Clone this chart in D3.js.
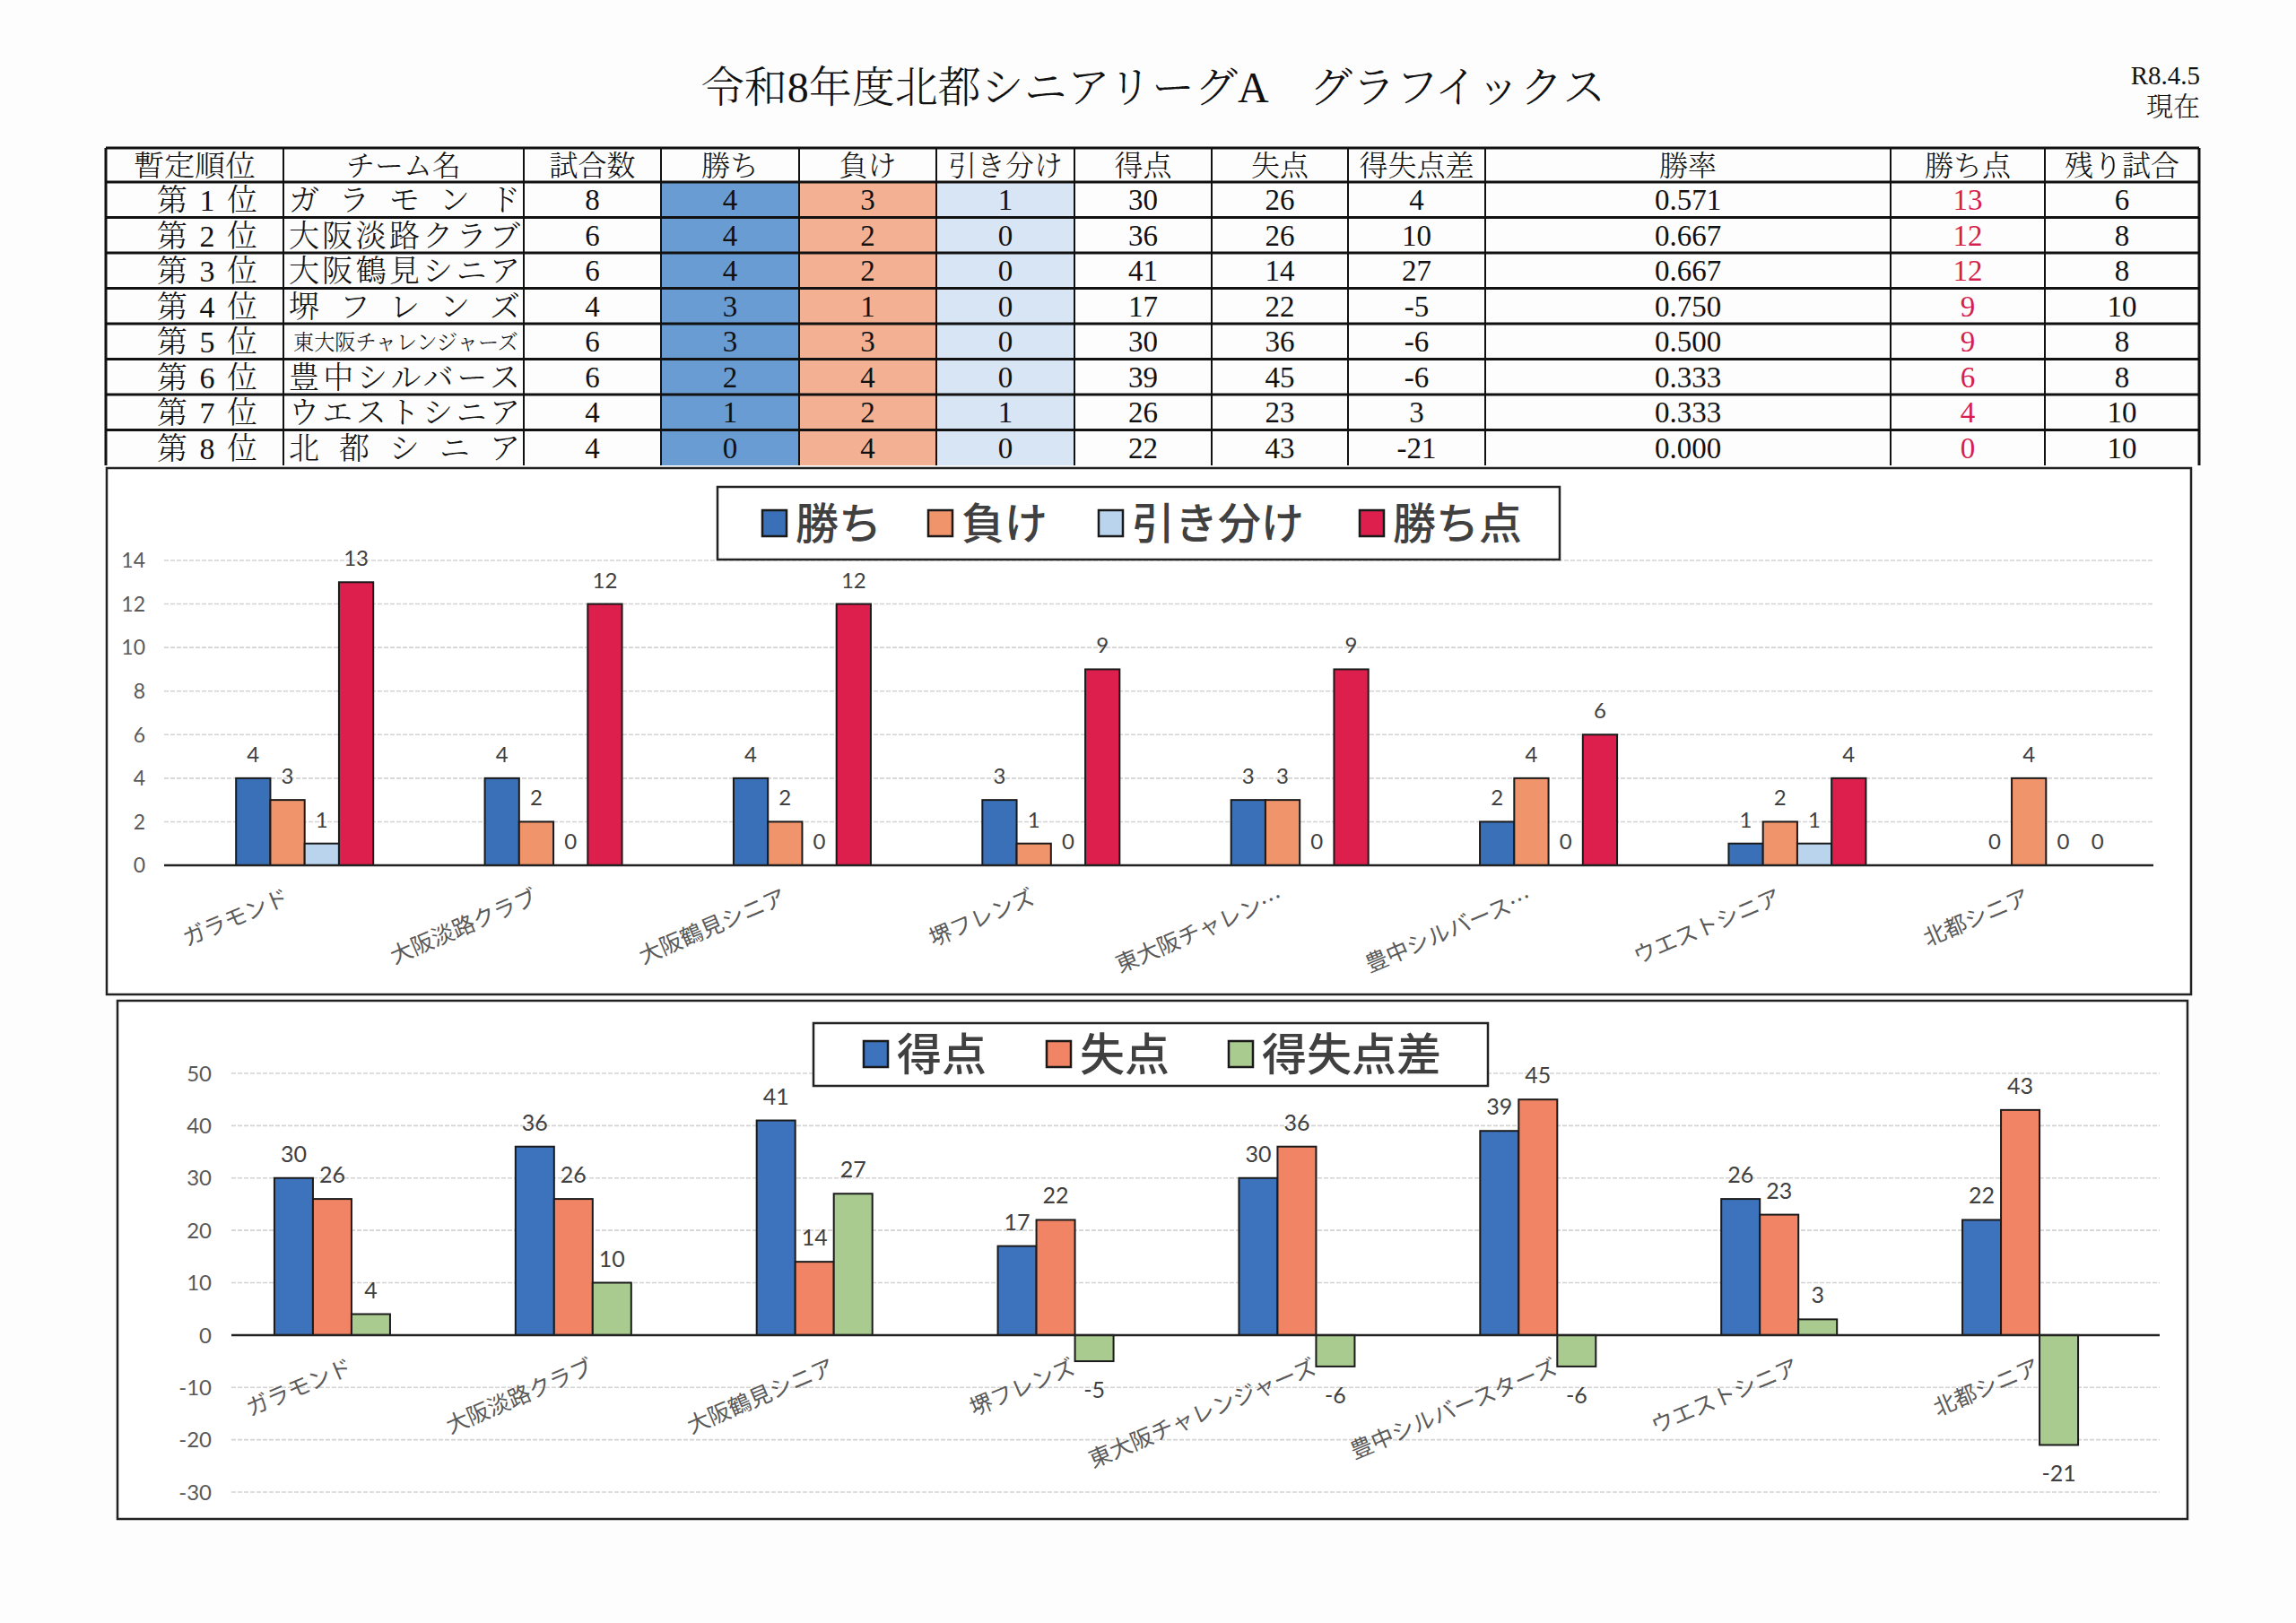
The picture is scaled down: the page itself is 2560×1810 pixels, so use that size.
<!DOCTYPE html>
<html><head><meta charset="utf-8">
<script src="https://cdn.jsdelivr.net/npm/d3@7/dist/d3.min.js"></script>
<style>body{margin:0;background:#fff}</style>
</head><body>
<svg id="c" width="2560" height="1810" xmlns="http://www.w3.org/2000/svg"></svg>
<script>
// ---------------- data ----------------
const titleText = "令和8年度北都シニアリーグA　グラフイックス";
const dateText = "R8.4.5";
const dateSub = "現在";
const headers = ["暫定順位","チーム名","試合数","勝ち","負け","引き分け","得点","失点","得失点差","勝率","勝ち点","残り試合"];
const ranks = ["第1位","第2位","第3位","第4位","第5位","第6位","第7位","第8位"];
const teamsTable = ["ガラモンド","大阪淡路クラブ","大阪鶴見シニア","堺フレンズ","東大阪チャレンジャーズ","豊中シルバース","ウエストシニア","北都シニア"];
const teamsChart1 = ["ガラモンド","大阪淡路クラブ","大阪鶴見シニア","堺フレンズ","東大阪チャレン…","豊中シルバース…","ウエストシニア","北都シニア"];
const teamsChart2 = ["ガラモンド","大阪淡路クラブ","大阪鶴見シニア","堺フレンズ","東大阪チャレンジャーズ","豊中シルバースターズ","ウエストシニア","北都シニア"];
const games = [8,6,6,4,6,6,4,4];
const wins = [4,4,4,3,3,2,1,0];
const losses = [3,2,2,1,3,4,2,4];
const draws = [1,0,0,0,0,0,1,0];
const runsFor = [30,36,41,17,30,39,26,22];
const runsAgainst = [26,26,14,22,36,45,23,43];
const runDiff = [4,10,27,-5,-6,-6,3,-21];
const winRate = ["0.571","0.667","0.667","0.750","0.500","0.333","0.333","0.000"];
const winPoints = [13,12,12,9,9,6,4,0];
const remaining = [6,8,8,10,8,8,10,10];
const chart1Series = ["勝ち","負け","引き分け","勝ち点"];
const chart2Series = ["得点","失点","得失点差"];
const chart1Ticks = [0,2,4,6,8,10,12,14];
const chart2Ticks = [-30,-20,-10,0,10,20,30,40,50];

// ---------------- styles ----------------
const svg = d3.select("#c");
const JP = "'Noto Sans CJK JP', sans-serif";
const SERIF = "'Liberation Serif', 'Noto Serif CJK JP', 'Noto Sans CJK JP', serif";
const NUM = "Lato, 'Noto Sans CJK JP', sans-serif";

svg.append("rect").attr("width",2560).attr("height",1810).attr("fill","#fdfdfd");

// ---------------- title ----------------
svg.append("text").attr("x",1286).attr("y",114).attr("text-anchor","middle")
  .attr("font-family",SERIF).attr("font-weight",300).attr("font-size",48).attr("fill","#111")
  .text(titleText);
svg.append("text").attr("x",2453).attr("y",94).attr("text-anchor","end")
  .attr("font-family",SERIF).attr("font-size",29).attr("fill","#111").text(dateText);
svg.append("text").attr("x",2453).attr("y",129).attr("text-anchor","end")
  .attr("font-family",SERIF).attr("font-weight",300).attr("font-size",30).attr("fill","#111").text(dateSub);

// ---------------- table ----------------
const colX = [118,316,584,737,891,1044,1198,1351,1503,1656,2108,2280,2452];
const tableTop = 165, headH = 38, rowH = 39.5;
const rowYs = d3.range(9).map(i => i===0 ? tableTop : tableTop + headH + (i-1)*rowH);
const tbl = svg.append("g");
const fills = {3:"#699cd2",4:"#f4b092",5:"#d7e5f4"};
ranks.forEach((r,i)=>{
  const y0 = tableTop + headH + i*rowH;
  Object.keys(fills).forEach(c=>{
    tbl.append("rect").attr("x",colX[c]).attr("y",y0).attr("width",colX[+c+1]-colX[c]).attr("height",rowH).attr("fill",fills[c]);
  });
});
// header
headers.forEach((h,c)=>{
  const t = tbl.append("text").attr("x",(colX[c]+colX[c+1])/2).attr("y",tableTop+headH/2).attr("dy","0.36em")
    .attr("text-anchor","middle").attr("font-family",SERIF).attr("font-weight",300).attr("font-size",32).attr("fill","#111").text(h);
  if (c===0) t.attr("textLength",136).attr("lengthAdjust","spacingAndGlyphs");
});
// rows
ranks.forEach((r,i)=>{
  const cy = tableTop + headH + i*rowH + rowH/2;
  tbl.append("text").attr("x",175).attr("y",cy).attr("dy","0.37em").attr("textLength",112).attr("lengthAdjust","spacing")
    .attr("font-family",SERIF).attr("font-weight",300).attr("font-size",34).attr("fill","#111").text(r);
  const small = teamsTable[i].length > 8;
  tbl.append("text").attr("x", small?327:322).attr("y",cy).attr("dy","0.37em")
    .attr("textLength", small?251:258).attr("lengthAdjust", small?"spacingAndGlyphs":"spacing")
    .attr("font-family",SERIF).attr("font-weight",300).attr("font-size", small?24:34).attr("fill","#111").text(teamsTable[i]);
  const vals = [games[i],wins[i],losses[i],draws[i],runsFor[i],runsAgainst[i],runDiff[i],winRate[i],winPoints[i],remaining[i]];
  vals.forEach((v,k)=>{
    const c = k+2;
    tbl.append("text").attr("x",(colX[c]+colX[c+1])/2).attr("y",cy).attr("dy","0.35em").attr("text-anchor","middle")
      .attr("font-family",SERIF).attr("font-size",33).attr("fill", c===10 ? "#d61f4e" : "#111").text(v);
  });
});
// grid lines
rowYs.forEach(y=>{
  tbl.append("line").attr("x1",colX[0]).attr("x2",colX[12]).attr("y1",y).attr("y2",y).attr("stroke","#111").attr("stroke-width",3);
});
colX.forEach((x,k)=>{
  tbl.append("line").attr("x1",x).attr("x2",x).attr("y1",tableTop).attr("y2",tableTop+headH+8*rowH)
    .attr("stroke","#111").attr("stroke-width", (k===0||k===12)?3:2);
});

// ---------------- charts ----------------
function barChart(cfg){
  const g = svg.append("g");
  g.append("rect").attr("x",cfg.frame[0]).attr("y",cfg.frame[1]).attr("width",cfg.frame[2]-cfg.frame[0]).attr("height",cfg.frame[3]-cfg.frame[1])
    .attr("fill","#fff").attr("stroke","#222").attr("stroke-width",2.5);
  const y = d3.scaleLinear().domain(cfg.yDomain).range(cfg.yRange);
  const xBars = d3.scaleBand().domain(d3.range(cfg.names.length)).range(cfg.barRange);
  const xLab = d3.scaleBand().domain(d3.range(cfg.names.length)).range(cfg.gridRange);
  const xs = d3.scaleBand().domain(cfg.series.map(s=>s.name)).range([-cfg.groupW/2, cfg.groupW/2]);
  // grid
  cfg.ticks.forEach(t=>{
    g.append("line").attr("x1",cfg.gridRange[0]).attr("x2",cfg.gridRange[1]).attr("y1",y(t)).attr("y2",y(t))
      .attr("stroke", t===0 ? "none" : "#d4d4d4").attr("stroke-width",1.6).attr("stroke-dasharray","5,2");
    g.append("text").attr("x",cfg.tickX).attr("y",y(t)).attr("dy","0.36em").attr("text-anchor","end")
      .attr("font-family",NUM).attr("font-size",cfg.tickSize).attr("fill","#595959").text(t);
  });
  // bars
  cfg.series.forEach(s=>{
    s.values.forEach((v,i)=>{
      const cx = xBars(i) + xBars.bandwidth()/2;
      const x0 = cx + xs(s.name);
      if (v !== 0) {
        g.append("rect").attr("x",x0).attr("width",xs.bandwidth())
          .attr("y", y(Math.max(0,v))).attr("height", Math.abs(y(v)-y(0)))
          .attr("fill", s.color).attr("stroke","#1a1a1a").attr("stroke-width",2);
      }
      const ly = v >= 0 ? y(v) - 18 : y(v) + 41;
      g.append("text").attr("x", x0 + xs.bandwidth()/2).attr("y", ly).attr("text-anchor","middle")
        .attr("font-family",NUM).attr("font-size",cfg.labelSize).attr("fill","#404040").text(v);
    });
  });
  // zero line
  g.append("line").attr("x1",cfg.gridRange[0]).attr("x2",cfg.gridRange[1]).attr("y1",y(0)).attr("y2",y(0))
    .attr("stroke","#222").attr("stroke-width",2.5);
  // category labels
  cfg.names.forEach((n,i)=>{
    const cx = xLab(i) + xLab.bandwidth()/2;
    g.append("text").attr("transform",`translate(${cx+2},${y(0)+42}) rotate(-23)`).attr("text-anchor","end")
      .attr("font-family",JP).attr("font-size",25).attr("fill","#595959").text(n);
  });
  // legend
  const L = cfg.legend;
  g.append("rect").attr("x",L.box[0]).attr("y",L.box[1]).attr("width",L.box[2]-L.box[0]).attr("height",L.box[3]-L.box[1])
    .attr("fill","#fff").attr("stroke","#222").attr("stroke-width",2.5);
  cfg.series.forEach((s,k)=>{
    g.append("rect").attr("x",L.xs[k]).attr("y",L.cy-15).attr("width",27).attr("height",29)
      .attr("fill",s.color).attr("stroke","#1a1a1a").attr("stroke-width",2.5);
    g.append("text").attr("x",L.xs[k]+37).attr("y",L.cy).attr("dy","0.36em")
      .attr("font-family",JP).attr("font-weight",500).attr("font-size",L.size).attr("fill","#404040").text(s.name);
  });
}

barChart({
  frame:[119,522,2443,1109],
  names: teamsChart1,
  series: [
    {name:chart1Series[0], values:wins, color:"#3a70b8"},
    {name:chart1Series[1], values:losses, color:"#f0946b"},
    {name:chart1Series[2], values:draws, color:"#b9d4ec"},
    {name:chart1Series[3], values:winPoints, color:"#dc1f4c"}
  ],
  yDomain:[0,14], yRange:[965,625], ticks: chart1Ticks,
  barRange:[201,2420], gridRange:[183,2401], groupW:153, tickX:162, labelSize:24, tickSize:23,
  legend:{box:[800,543,1739,624], xs:[850,1035,1225,1516], cy:584, size:48}
});

barChart({
  frame:[131,1116,2439,1694],
  names: teamsChart2,
  series: [
    {name:chart2Series[0], values:runsFor, color:"#3d72bd"},
    {name:chart2Series[1], values:runsAgainst, color:"#f08464"},
    {name:chart2Series[2], values:runDiff, color:"#a9cb90"}
  ],
  yDomain:[-30,50], yRange:[1664,1197], ticks: chart2Ticks,
  barRange:[236,2387], gridRange:[258,2408], groupW:129, tickX:236, labelSize:25, tickSize:24,
  legend:{box:[907,1141,1659,1211], xs:[963,1167,1370], cy:1176, size:50}
});
</script>
</body></html>
